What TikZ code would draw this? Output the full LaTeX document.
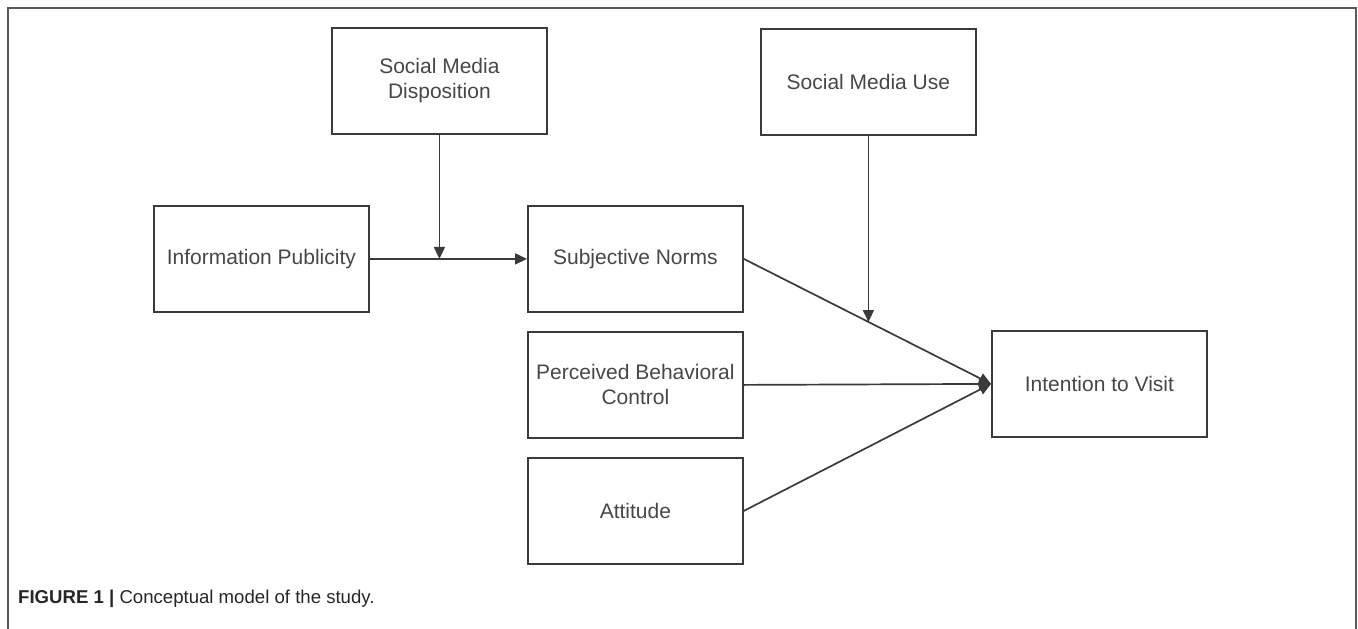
\documentclass[tikz,border=0pt]{standalone}
\usepackage{fontspec}
\setmainfont{Liberation Sans}
\usetikzlibrary{arrows.meta}
\definecolor{boxline}{HTML}{3A3A3A}
\definecolor{frameline}{HTML}{5A5A5A}
\definecolor{txt}{HTML}{474747}
\tikzset{
  box/.style={draw=boxline, line width=1.8pt, minimum width=215pt, minimum height=106pt, inner sep=1pt, align=center, text=txt, font=\fontsize{21}{25}\selectfont, anchor=north west},
  conn/.style={draw=boxline, line width=1.7pt, -{Triangle[length=12pt,width=11pt]}},
}
\begin{document}
\begin{tikzpicture}[x=1pt,y=-1pt]
\useasboundingbox (0,0) rectangle (1358,629);
\draw[frameline, line width=1.8pt] (8,629) -- (8,8) -- (1356,8) -- (1356,629);
\node[box] (smd) at (331,27) {Social Media\\Disposition};
\node[box] (smu) at (760,28) {Social Media Use};
\node[box] (ip) at (153,205) {Information Publicity};
\node[box] (sn) at (527,205) {Subjective Norms};
\node[box] (pbc) at (527,331) {Perceived Behavioral\\Control};
\node[box] (att) at (527,457) {Attitude};
\node[box] (iv) at (991,330) {Intention to Visit};
\coordinate (m1) at (ip.east -| smd.south);
\coordinate (ivin) at (iv.west);
\path (sn.east) -- (ivin) coordinate[pos=0.505] (m2);
\draw[conn] (ip.east) -- (sn.west);
\draw[conn] (smd.south) -- (m1);
\draw[conn] (sn.east) -- (ivin);
\draw[conn] (pbc.east) -- (ivin);
\draw[conn] (att.east) -- (ivin);
\draw[conn] (smu.south) -- (m2 -| smu.south);
\node[anchor=base west, inner sep=0pt, text=black!85, font=\fontsize{18.6}{22}\selectfont] (cap) at (18,603) {\textbf{FIGURE 1 |} Conceptual model of the study.};
\end{tikzpicture}
\end{document}
